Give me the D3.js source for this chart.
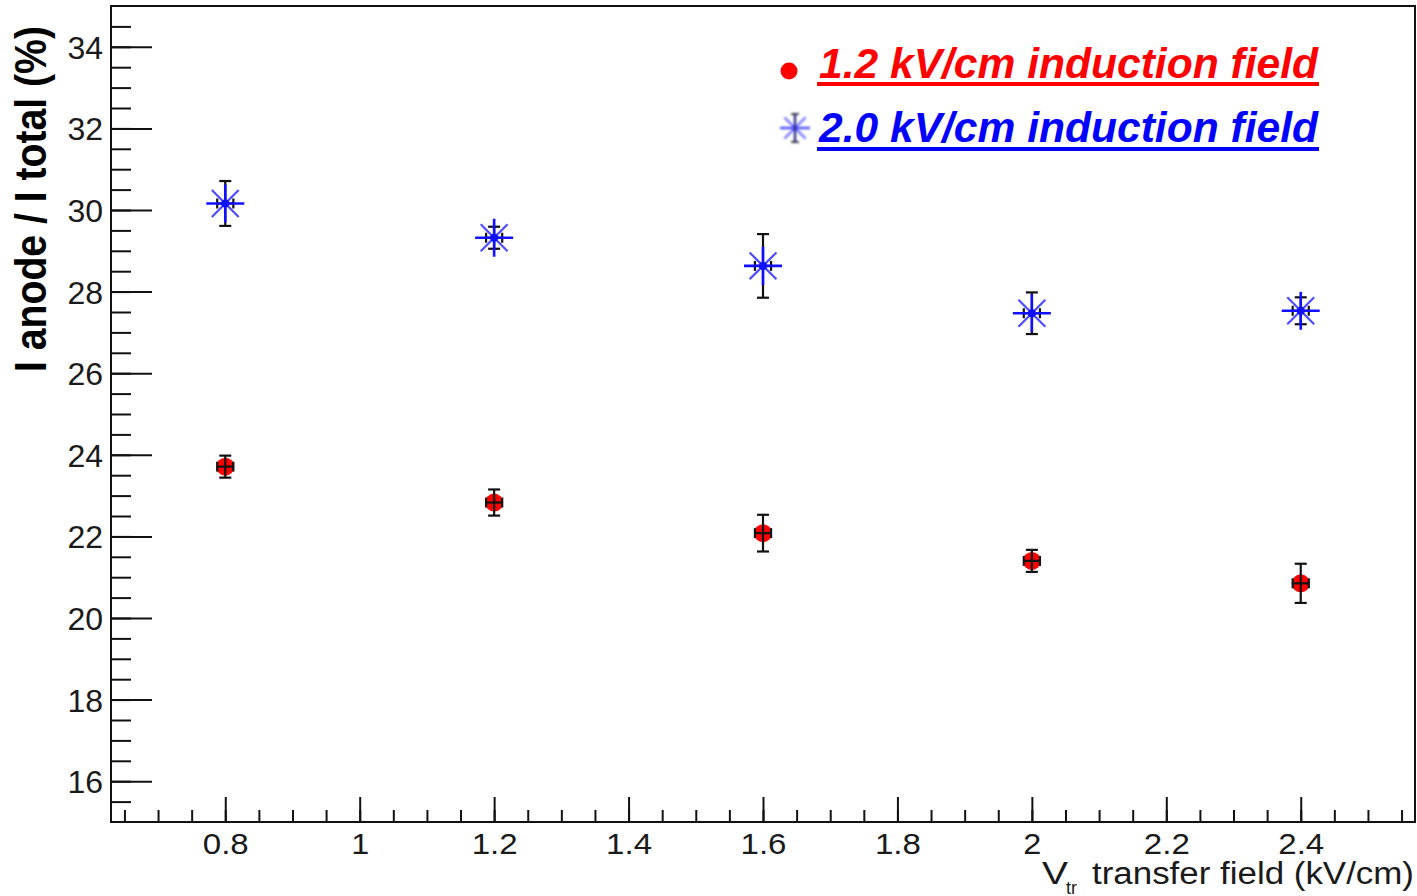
<!DOCTYPE html>
<html>
<head>
<meta charset="utf-8">
<script src="https://cdn.jsdelivr.net/npm/d3@7"></script>
<style>
  html, body { margin: 0; padding: 0; background: #fff; }
  svg { display: block; }
  text { font-family: "Liberation Sans", Arial, Helvetica, sans-serif; }
</style>
</head>
<body>
<svg id="chart" width="1417" height="896"></svg>
<script>
// Transfer field settings (kV/cm)
const transferField = [0.8, 1.2, 1.6, 2.0, 2.4];

// Anode current fraction (%) at 1.2 kV/cm induction field
const ratioInd12 = [23.71, 22.83, 22.08, 21.40, 20.85];
const errInd12   = [0.27, 0.32, 0.45, 0.27, 0.48];

// Anode current fraction (%) at 2.0 kV/cm induction field
const ratioInd20 = [30.16, 29.32, 28.63, 27.47, 27.53];
const errInd20   = [0.55, 0.27, 0.78, 0.51, 0.33];

// Horizontal uncertainty on the transfer field
const fieldErr = 0.012;

// Axis ticks and labels
const xMajorTicks = [0.8, 1.0, 1.2, 1.4, 1.6, 1.8, 2.0, 2.2, 2.4];
const xTickLabels = ["0.8", "1", "1.2", "1.4", "1.6", "1.8", "2", "2.2", "2.4"];
const yMajorTicks = [16, 18, 20, 22, 24, 26, 28, 30, 32, 34];
const yTickLabels = ["16", "18", "20", "22", "24", "26", "28", "30", "32", "34"];

const seriesNames = ["1.2 kV/cm induction field", "2.0 kV/cm induction field"];

const svg = d3.select("#chart");

const x = d3.scaleLinear().domain([0.63, 2.57]).range([111, 1415]);
const y = d3.scaleLinear().domain([15, 35]).range([822, 6]);

// Minor ticks
const xMinor = d3.range(0.65, 2.56, 0.05).map(v => +v.toFixed(2));
const yMinor = d3.range(15.5, 35, 0.5).map(v => +v.toFixed(1));

const axisStyle = size => g => {
  g.select(".domain").remove();
  g.selectAll("line").attr("stroke", "#111").attr("stroke-width", 2);
  g.selectAll("text")
    .attr("fill", "#1a1a1a")
    .style("font-size", size + "px")
    .style("font-family", "'Liberation Sans', Arial, sans-serif");
};

// Y axis (ticks pointing into the frame)
svg.append("g")
  .attr("transform", `translate(${x.range()[0]},0)`)
  .call(d3.axisLeft(y).tickValues(yMinor).tickSize(-20).tickFormat(""))
  .call(axisStyle(32));

svg.append("g")
  .attr("transform", `translate(${x.range()[0]},0)`)
  .call(d3.axisLeft(y).tickValues(yMajorTicks).tickSize(-41).tickPadding(8)
        .tickFormat((d, i) => yTickLabels[i]))
  .call(axisStyle(32))
  .call(g => g.selectAll("text").attr("dy", "0.36em"));

// X axis
svg.append("g")
  .attr("transform", `translate(0,${y.range()[0]})`)
  .call(d3.axisBottom(x).tickValues(xMinor).tickSize(-12).tickFormat(""))
  .call(axisStyle(30));

svg.append("g")
  .attr("transform", `translate(0,${y.range()[0]})`)
  .call(d3.axisBottom(x).tickValues(xMajorTicks).tickSize(-25).tickPadding(11)
        .tickFormat((d, i) => xTickLabels[i]))
  .call(axisStyle(30))
  .call(g => g.selectAll("text")
    .attr("textLength", (d, i) => xTickLabels[i].length === 1 ? 18 : 46)
    .attr("lengthAdjust", "spacingAndGlyphs"));

// Frame
svg.append("rect")
  .attr("x", x.range()[0]).attr("y", y.range()[1])
  .attr("width", x.range()[1] - x.range()[0])
  .attr("height", y.range()[0] - y.range()[1])
  .attr("fill", "none").attr("stroke", "#111").attr("stroke-width", 2);

// Axis titles
svg.append("text")
  .attr("transform", `translate(46,${199}) rotate(-90)`)
  .attr("text-anchor", "middle")
  .attr("font-weight", "bold")
  .attr("textLength", 346)
  .attr("lengthAdjust", "spacingAndGlyphs")
  .style("font-size", "44px")
  .attr("fill", "#000")
  .text("I anode / I total (%)");

const xTitle = svg.append("g").attr("fill", "#1a1a1a");
xTitle.append("text").attr("x", 1042).attr("y", 884)
  .attr("textLength", 26).attr("lengthAdjust", "spacingAndGlyphs")
  .style("font-size", "31px").text("V");
xTitle.append("text").attr("x", 1066).attr("y", 894)
  .style("font-size", "18px").text("tr");
xTitle.append("text").attr("x", 1092).attr("y", 884)
  .attr("textLength", 322).attr("lengthAdjust", "spacingAndGlyphs")
  .style("font-size", "31px").text("transfer field (kV/cm)");

// Error bars: vertical with end caps, short horizontal with end caps
function drawErrors(g, xs, ys, es, capHalf) {
  const pts = xs.map((v, i) => ({ fx: v, val: ys[i], err: es[i] }));
  const eg = g.append("g").attr("stroke", "#111").attr("stroke-width", 2.2).attr("fill", "none");
  pts.forEach(p => {
    const cx = x(p.fx), cy = y(p.val);
    const y0 = y(p.val - p.err), y1 = y(p.val + p.err);
    const x0 = x(p.fx - fieldErr), x1 = x(p.fx + fieldErr);
    eg.append("line").attr("x1", cx).attr("x2", cx).attr("y1", y0).attr("y2", y1);
    eg.append("line").attr("x1", cx - capHalf).attr("x2", cx + capHalf).attr("y1", y0).attr("y2", y0);
    eg.append("line").attr("x1", cx - capHalf).attr("x2", cx + capHalf).attr("y1", y1).attr("y2", y1);
    eg.append("line").attr("x1", x0).attr("x2", x1).attr("y1", cy).attr("y2", cy);
    eg.append("line").attr("x1", x0).attr("x2", x0).attr("y1", cy - 5).attr("y2", cy + 5);
    eg.append("line").attr("x1", x1).attr("x2", x1).attr("y1", cy - 5).attr("y2", cy + 5);
  });
}

// Asterisk marker
function asterisk(g, cx, cy, r, color, wMain, wDiag, dotR) {
  const a = g.append("g");
  const d = r * Math.SQRT1_2;
  a.append("line").attr("x1", cx - d).attr("y1", cy - d).attr("x2", cx + d).attr("y2", cy + d)
    .attr("stroke", color).attr("stroke-width", wDiag).attr("stroke-opacity", 0.75);
  a.append("line").attr("x1", cx - d).attr("y1", cy + d).attr("x2", cx + d).attr("y2", cy - d)
    .attr("stroke", color).attr("stroke-width", wDiag).attr("stroke-opacity", 0.75);
  a.append("line").attr("x1", cx - r).attr("y1", cy).attr("x2", cx + r).attr("y2", cy)
    .attr("stroke", color).attr("stroke-width", wMain);
  a.append("line").attr("x1", cx).attr("y1", cy - r).attr("x2", cx).attr("y2", cy + r)
    .attr("stroke", color).attr("stroke-width", wMain);
  if (dotR) a.append("circle").attr("cx", cx).attr("cy", cy).attr("r", dotR).attr("fill", color);
  return a;
}

// Series at 1.2 kV/cm: red circles, error bars drawn over them
const s12 = svg.append("g");
s12.selectAll("circle").data(transferField).join("circle")
  .attr("cx", d => x(d))
  .attr("cy", (d, i) => y(ratioInd12[i]))
  .attr("r", 9)
  .attr("fill", "#ff0000");
drawErrors(s12, transferField, ratioInd12, errInd12, 6);

// Series at 2.0 kV/cm: error bars first, blue asterisks on top
const s20 = svg.append("g");
drawErrors(s20, transferField, ratioInd20, errInd20, 6);
transferField.forEach((f, i) => {
  asterisk(s20, x(f), y(ratioInd20[i]), 19, "#1010ff", 2.6, 2.2, 4);
});

// Legend
const defs = svg.append("defs");
defs.append("filter").attr("id", "soft")
  .append("feGaussianBlur").attr("stdDeviation", 0.9);

const legend = svg.append("g");
legend.append("circle").attr("cx", 789).attr("cy", 71).attr("r", 8.5).attr("fill", "#ff0000");

const lm = legend.append("g").attr("filter", "url(#soft)");
asterisk(lm, 795, 128, 15, "#4a4aff", 2.4, 2.2, 3);
lm.append("line").attr("x1", 795).attr("x2", 795).attr("y1", 114).attr("y2", 142)
  .attr("stroke", "#222").attr("stroke-width", 1.6);
lm.append("line").attr("x1", 791).attr("x2", 799).attr("y1", 114).attr("y2", 114)
  .attr("stroke", "#222").attr("stroke-width", 1.6);
lm.append("line").attr("x1", 791).attr("x2", 799).attr("y1", 142).attr("y2", 142)
  .attr("stroke", "#222").attr("stroke-width", 1.6);

const legendRows = [
  { name: seriesNames[0], color: "#ff0000", base: 78, line: 82 },
  { name: seriesNames[1], color: "#0000ff", base: 142, line: 147 }
];
legendRows.forEach(r => {
  legend.append("text")
    .attr("x", 819).attr("y", r.base)
    .attr("textLength", 499).attr("lengthAdjust", "spacingAndGlyphs")
    .attr("font-weight", "bold").attr("font-style", "italic")
    .style("font-size", "42px")
    .attr("fill", r.color)
    .text(r.name);
  legend.append("rect")
    .attr("x", 817).attr("y", r.line).attr("width", 502).attr("height", 4)
    .attr("fill", r.color);
});
</script>
</body>
</html>
